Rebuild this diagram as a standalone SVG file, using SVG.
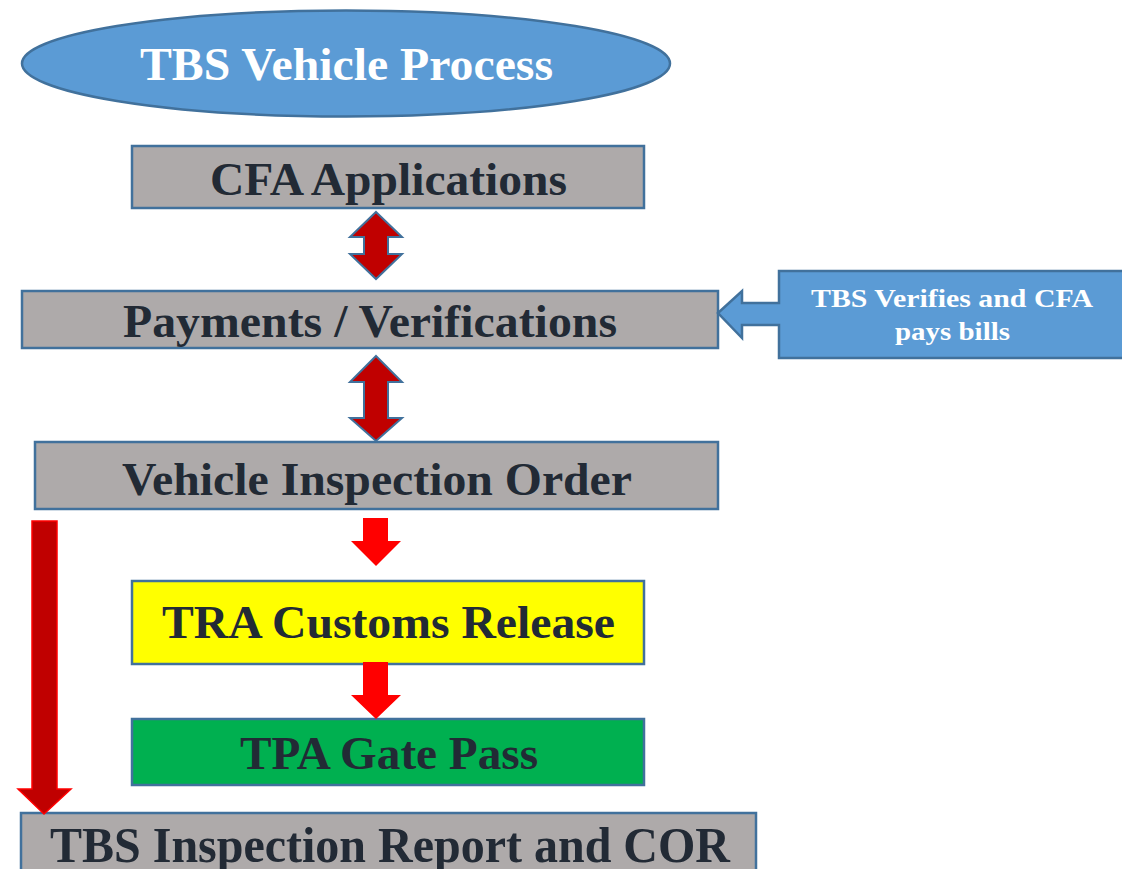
<svg xmlns="http://www.w3.org/2000/svg" width="1122" height="869" viewBox="0 0 1122 869">
<style>
.box{stroke:#41719C;stroke-width:2.5}
.grey{fill:#AEAAAA}
.t{font-family:"Liberation Serif","Times New Roman",serif;font-weight:bold;fill:#222A35;text-anchor:middle}
.w{fill:#FFFFFF}
.dbl{fill:#C00000;stroke:#41719C;stroke-width:2}
.red{fill:#FF0000}
</style>
<rect width="1122" height="869" fill="#FFFFFF"/>
<g id="title">
<ellipse cx="346" cy="63.5" rx="324" ry="53" fill="#5B9BD5" stroke="#41719C" stroke-width="2.5"/>
<text class="t w" x="346.5" y="80" font-size="46" textLength="413" lengthAdjust="spacingAndGlyphs">TBS Vehicle Process</text>
</g>
<g id="cfa">
<rect class="box grey" x="132" y="146" width="512" height="62"/>
<text class="t" x="388.5" y="195" font-size="46" textLength="357" lengthAdjust="spacingAndGlyphs">CFA Applications</text>
</g>
<g id="payments">
<rect class="box grey" x="22" y="291" width="696" height="57"/>
<text class="t" x="370" y="337" font-size="46" textLength="494" lengthAdjust="spacingAndGlyphs">Payments / Verifications</text>
</g>
<g id="callout">
<path d="M718,313 L742,291 L742,303 L779,303 L779,271 L1126,271 L1126,358 L779,358 L779,325 L742,325 L742,338 Z" fill="#5B9BD5" stroke="#41719C" stroke-width="2.5"/>
<text class="t w" x="952" y="307" font-size="25" textLength="282" lengthAdjust="spacingAndGlyphs">TBS Verifies and CFA</text>
<text class="t w" x="952.5" y="340" font-size="25" textLength="115" lengthAdjust="spacingAndGlyphs">pays bills</text>
</g>
<g id="vio">
<rect class="box grey" x="35" y="442" width="683" height="67"/>
<text class="t" x="377" y="495" font-size="46" textLength="510" lengthAdjust="spacingAndGlyphs">Vehicle Inspection Order</text>
</g>
<g id="tra">
<rect class="box" x="132" y="581" width="512" height="83" fill="#FFFF00"/>
<text class="t" x="388.5" y="638" font-size="46" textLength="453" lengthAdjust="spacingAndGlyphs">TRA Customs Release</text>
</g>
<g id="tpa">
<rect class="box" x="132" y="719" width="512" height="66" fill="#00B050"/>
<text class="t" x="389" y="769" font-size="46" textLength="298" lengthAdjust="spacingAndGlyphs">TPA Gate Pass</text>
</g>
<g id="report">
<rect class="box grey" x="21" y="813" width="735" height="70"/>
<text class="t" x="390" y="862" font-size="50" textLength="680" lengthAdjust="spacingAndGlyphs">TBS Inspection Report and COR</text>
</g>
<g id="connectors">
<path class="dbl" d="M376,212 L402,237 L388,237 L388,254 L402,254 L376,279 L350,254 L364,254 L364,237 L350,237 Z"/>
<path class="dbl" d="M376,356 L402,382 L388,382 L388,418 L402,418 L376,441 L350,418 L364,418 L364,382 L350,382 Z"/>
<path class="red" d="M363,518 L388,518 L388,541 L401,541 L376,566 L351,541 L363,541 Z"/>
<path class="red" d="M363,662 L388,662 L388,695 L401,695 L376,719 L351,695 L363,695 Z"/>
<path d="M32,521 L57,521 L57,789 L71,789 L44,814 L18,789 L32,789 Z" fill="#C00000" stroke="#FF0000" stroke-width="1.5"/>
</g>
</svg>
